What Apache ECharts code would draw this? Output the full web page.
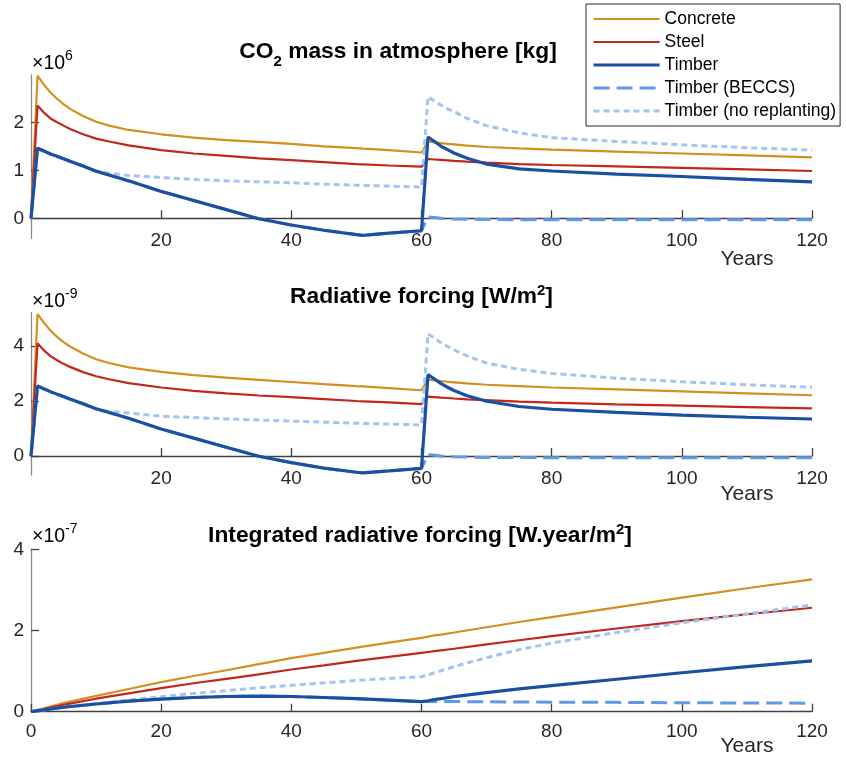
<!DOCTYPE html>
<html lang="en">
<head>
<meta charset="UTF-8">
<title>CO2 mass, radiative forcing and integrated radiative forcing</title>
<script src="https://cdn.jsdelivr.net/npm/echarts@6.0.0/dist/echarts.min.js"></script>
<style>
  html, body { margin: 0; padding: 0; background: #fff; }
  #chart { width: 846px; height: 757px; }
</style>
</head>
<body>
<div id="chart"></div>
<script>
  // years sampled for the two upper panels
  const years = [0, 1, 2, 3, 4, 5, 6, 8, 10, 12, 15, 20, 25, 30, 35, 40, 45, 50, 51, 55, 60,
    61, 62, 63, 64, 65, 67, 70, 75, 80, 90, 100, 110, 120];

  // CO2 mass in atmosphere, x1e6 kg
  const massConcrete = [0, 2.97, 2.78, 2.62, 2.49, 2.38, 2.28, 2.13, 2.01, 1.93, 1.84, 1.75, 1.68, 1.63, 1.59, 1.55, 1.50, 1.46, 1.45, 1.42, 1.37,
    1.60, 1.58, 1.565, 1.55, 1.54, 1.515, 1.485, 1.455, 1.43, 1.39, 1.35, 1.31, 1.27];
  const massSteel = [0, 2.35, 2.20, 2.08, 2.00, 1.93, 1.86, 1.75, 1.66, 1.60, 1.52, 1.42, 1.35, 1.30, 1.25, 1.21, 1.17, 1.13, 1.125, 1.10, 1.075,
    1.235, 1.225, 1.215, 1.205, 1.195, 1.18, 1.16, 1.13, 1.11, 1.08, 1.05, 1.02, 0.985];
  const massTimber = [0, 1.46, 1.40, 1.34, 1.29, 1.24, 1.19, 1.09, 0.98, 0.90, 0.78, 0.56, 0.37, 0.18, -0.01, -0.14, -0.25, -0.34, -0.355, -0.31, -0.26,
    1.69, 1.60, 1.50, 1.43, 1.36, 1.25, 1.13, 1.03, 0.985, 0.92, 0.87, 0.81, 0.76];
  const massBeccs = [0, 1.46, 1.40, 1.34, 1.29, 1.24, 1.19, 1.09, 0.98, 0.90, 0.78, 0.56, 0.37, 0.18, -0.01, -0.14, -0.25, -0.34, -0.355, -0.31, -0.26,
    0.03, 0.015, 0.0, -0.01, -0.015, -0.02, -0.025, -0.03, -0.03, -0.03, -0.03, -0.03, -0.03];
  const massNoReplant = [0, 1.44, 1.39, 1.33, 1.28, 1.23, 1.18, 1.08, 0.99, 0.94, 0.89, 0.85, 0.81, 0.78, 0.76, 0.74, 0.71, 0.69, 0.685, 0.67, 0.65,
    2.53, 2.44, 2.36, 2.28, 2.22, 2.08, 1.93, 1.78, 1.68, 1.60, 1.53, 1.47, 1.42];

  // radiative forcing, x1e-9 W/m2
  const rfConcrete = [0, 5.16, 4.84, 4.56, 4.33, 4.14, 3.98, 3.73, 3.52, 3.38, 3.22, 3.06, 2.94, 2.85, 2.77, 2.69, 2.61, 2.54, 2.53, 2.47, 2.39,
    2.78, 2.75, 2.72, 2.70, 2.68, 2.64, 2.59, 2.54, 2.49, 2.42, 2.35, 2.28, 2.21];
  const rfSteel = [0, 4.10, 3.84, 3.63, 3.48, 3.35, 3.24, 3.05, 2.90, 2.79, 2.65, 2.49, 2.37, 2.28, 2.20, 2.14, 2.07, 2.00, 1.99, 1.95, 1.89,
    2.16, 2.14, 2.12, 2.11, 2.09, 2.06, 2.03, 1.98, 1.94, 1.88, 1.83, 1.78, 1.73];
  const rfTimber = [0, 2.55, 2.44, 2.34, 2.25, 2.16, 2.07, 1.90, 1.72, 1.58, 1.37, 0.98, 0.65, 0.32, -0.01, -0.24, -0.44, -0.59, -0.61, -0.54, -0.45,
    2.96, 2.80, 2.63, 2.50, 2.38, 2.19, 1.99, 1.80, 1.70, 1.59, 1.49, 1.41, 1.345];
  const rfBeccs = [0, 2.55, 2.44, 2.34, 2.25, 2.16, 2.07, 1.90, 1.72, 1.58, 1.37, 0.98, 0.65, 0.32, -0.01, -0.24, -0.44, -0.59, -0.61, -0.54, -0.45,
    0.06, 0.03, 0.0, -0.02, -0.03, -0.04, -0.05, -0.055, -0.06, -0.06, -0.06, -0.06, -0.06];
  const rfNoReplant = [0, 2.52, 2.42, 2.32, 2.23, 2.14, 2.05, 1.88, 1.71, 1.63, 1.56, 1.45, 1.40, 1.35, 1.31, 1.27, 1.23, 1.19, 1.185, 1.16, 1.13,
    4.44, 4.28, 4.12, 3.98, 3.86, 3.64, 3.38, 3.15, 3.00, 2.83, 2.70, 2.59, 2.50];

  // integrated radiative forcing, x1e-7 W.year/m2
  const yearsInt = [0, 5, 10, 15, 20, 25, 30, 35, 40, 45, 50, 55, 60, 61, 62, 63, 65, 70, 75, 80, 90, 100, 110, 120];
  const intConcrete = [0, 0.21, 0.39, 0.56, 0.73, 0.88, 1.02, 1.17, 1.32, 1.45, 1.58, 1.70, 1.82, 1.85, 1.88, 1.90, 1.95, 2.08, 2.21, 2.33, 2.57, 2.81, 3.04, 3.26];
  const intSteel = [0, 0.17, 0.32, 0.45, 0.58, 0.70, 0.81, 0.92, 1.04, 1.14, 1.25, 1.35, 1.45, 1.47, 1.49, 1.51, 1.55, 1.66, 1.76, 1.86, 2.05, 2.23, 2.40, 2.56];
  const intTimber = [0, 0.11, 0.19, 0.26, 0.31, 0.35, 0.375, 0.385, 0.375, 0.35, 0.32, 0.285, 0.25, 0.27, 0.30, 0.32, 0.37, 0.47, 0.56, 0.64, 0.80, 0.96, 1.11, 1.25];
  const intBeccs = [0, 0.11, 0.19, 0.26, 0.31, 0.35, 0.375, 0.385, 0.375, 0.35, 0.32, 0.285, 0.25, 0.25, 0.25, 0.25, 0.25, 0.245, 0.24, 0.235, 0.23, 0.22, 0.215, 0.21];
  const intNoReplant = [0, 0.11, 0.20, 0.29, 0.37, 0.45, 0.52, 0.59, 0.65, 0.71, 0.77, 0.82, 0.86, 0.91, 0.96, 1.01, 1.11, 1.33, 1.53, 1.69, 1.95, 2.19, 2.41, 2.63];

  const font = '"Liberation Sans", Arial, Helvetica, sans-serif';
  const axisDark = '#404040';

  // one style per material, shared by all panels and the legend
  const styles = {
    'Concrete': { color: '#D4901F', width: 2.2, type: 'solid', z: 2 },
    'Steel': { color: '#C0281E', width: 2.2, type: 'solid', z: 2 },
    'Timber': { color: '#1B4FA1', width: 3.2, type: 'solid', z: 4 },
    'Timber (BECCS)': { color: '#5E9AE6', width: 3, type: [16, 7], z: 3 },
    'Timber (no replanting)': { color: '#A3C4F2', width: 3, type: [6, 4], z: 3 }
  };
  const seriesNames = Object.keys(styles);

  const chart = echarts.init(document.getElementById('chart'));

  function panelSeries(i, xs, values) {
    return seriesNames.map(name => {
      const s = styles[name];
      return {
        type: 'line',
        name: name,
        xAxisIndex: i,
        yAxisIndex: i,
        data: xs.map((x, k) => [x, values[name][k]]),
        symbol: 'none',
        z: s.z,
        itemStyle: { color: s.color },
        lineStyle: { color: s.color, width: s.width, type: s.type },
        animation: false
      };
    });
  }

  function xAxisFor(i, showZero, margin) {
    return {
      type: 'value', gridIndex: i, min: 0, max: 120, interval: 20,
      axisLine: { onZero: true, lineStyle: { color: axisDark, width: 1.3 } },
      axisTick: { inside: true, length: 8, lineStyle: { color: axisDark, width: 1.3 } },
      axisLabel: {
        margin: margin, fontSize: 19, color: '#262626', fontFamily: font,
        formatter: v => (v === 0 && !showZero) ? '' : String(v)
      },
      splitLine: { show: false }
    };
  }

  function yAxisFor(i, min, max, ticks) {
    return {
      type: 'value', gridIndex: i, min: min, max: max,
      axisLine: { show: true, lineStyle: { color: '#8c8c8c', width: 1.3 } },
      axisTick: { show: true, inside: true, length: 8, customValues: ticks, lineStyle: { color: axisDark, width: 1.3 } },
      axisLabel: { customValues: ticks, margin: 7, fontSize: 19, color: '#262626', fontFamily: font },
      splitLine: { show: false }
    };
  }

  const titleRich = {
    t: { fontSize: 22.8, fontWeight: 'bold', color: '#000', fontFamily: font, lineHeight: 28, verticalAlign: 'middle' },
    t2: { fontSize: 22.8, fontWeight: 'bold', color: '#000', fontFamily: font, lineHeight: 34, verticalAlign: 'middle' },
    sub: { fontSize: 15, fontWeight: 'bold', color: '#000', fontFamily: font, lineHeight: 15, verticalAlign: 'bottom' },
    sup: { fontSize: 15, fontWeight: 'bold', color: '#000', fontFamily: font, lineHeight: 15, verticalAlign: 'top' }
  };
  const expRich = {
    a: { fontSize: 19.5, color: '#262626', fontFamily: font, lineHeight: 28, verticalAlign: 'middle' },
    e: { fontSize: 14, color: '#262626', fontFamily: font, lineHeight: 14, verticalAlign: 'top' }
  };

  function label(x, y, text, rich, align) {
    return { type: 'text', x: x, y: y, z: 10, style: { text: text, rich: rich, align: align, verticalAlign: 'middle' } };
  }
  function yearsLabel(y) {
    return { type: 'text', x: 747, y: y, z: 10,
      style: { text: 'Years', fontSize: 21, fill: '#262626', fontFamily: font, align: 'center', verticalAlign: 'middle' } };
  }

  const option = {
    animation: false,
    backgroundColor: '#fff',
    textStyle: { fontFamily: font },
    grid: [
      { left: 31, top: 75, width: 781, height: 163.3 },
      { left: 31, top: 312.7, width: 781, height: 162.3 },
      { left: 31, top: 549.3, width: 781, height: 162.4 }
    ],
    xAxis: [xAxisFor(0, false, -7), xAxisFor(1, false, -5.5), xAxisFor(2, true, 11)],
    yAxis: [
      yAxisFor(0, -0.417, 2.985, [0, 1, 2]),
      yAxisFor(1, -0.69, 5.21, [0, 2, 4]),
      yAxisFor(2, 0, 4, [0, 2, 4])
    ],
    legend: {
      data: ['Concrete', 'Steel', 'Timber', 'Timber (BECCS)', 'Timber (no replanting)'].map(name => ({
        name: name,
        lineStyle: { color: styles[name].color, width: styles[name].width, type: styles[name].type }
      })),
      orient: 'vertical',
      left: 586, top: 4,
      itemWidth: 66, itemHeight: 18, itemGap: 5,
      padding: [6, 4, 6, 6],
      borderColor: '#262626', borderWidth: 1, backgroundColor: '#fff',
      itemStyle: { color: 'rgba(0,0,0,0)', borderWidth: 0, opacity: 0 },
      textStyle: { fontSize: 17.5, color: '#000', fontFamily: font },
      selectedMode: false
    },
    graphic: [
      label(398, 52, '{t2|CO}{sub|2}{t2| mass in atmosphere [kg]}', titleRich, 'center'),
      label(421.5, 297, '{t|Radiative forcing [W/m}{sup|2}{t|]}', titleRich, 'center'),
      label(420, 536, '{t|Integrated radiative forcing [W.year/m}{sup|2}{t|]}', titleRich, 'center'),
      label(32, 63.5, '{a|\u00d710}{e|6}', expRich, 'left'),
      label(32, 301.5, '{a|\u00d710}{e|-9}', expRich, 'left'),
      label(32, 536.5, '{a|\u00d710}{e|-7}', expRich, 'left'),
      yearsLabel(259),
      yearsLabel(494),
      yearsLabel(746)
    ],
    series: [
      ...panelSeries(0, years, {
        'Concrete': massConcrete, 'Steel': massSteel, 'Timber': massTimber,
        'Timber (BECCS)': massBeccs, 'Timber (no replanting)': massNoReplant
      }),
      ...panelSeries(1, years, {
        'Concrete': rfConcrete, 'Steel': rfSteel, 'Timber': rfTimber,
        'Timber (BECCS)': rfBeccs, 'Timber (no replanting)': rfNoReplant
      }),
      ...panelSeries(2, yearsInt, {
        'Concrete': intConcrete, 'Steel': intSteel, 'Timber': intTimber,
        'Timber (BECCS)': intBeccs, 'Timber (no replanting)': intNoReplant
      })
    ]
  };

  chart.setOption(option);
</script>
</body>
</html>
